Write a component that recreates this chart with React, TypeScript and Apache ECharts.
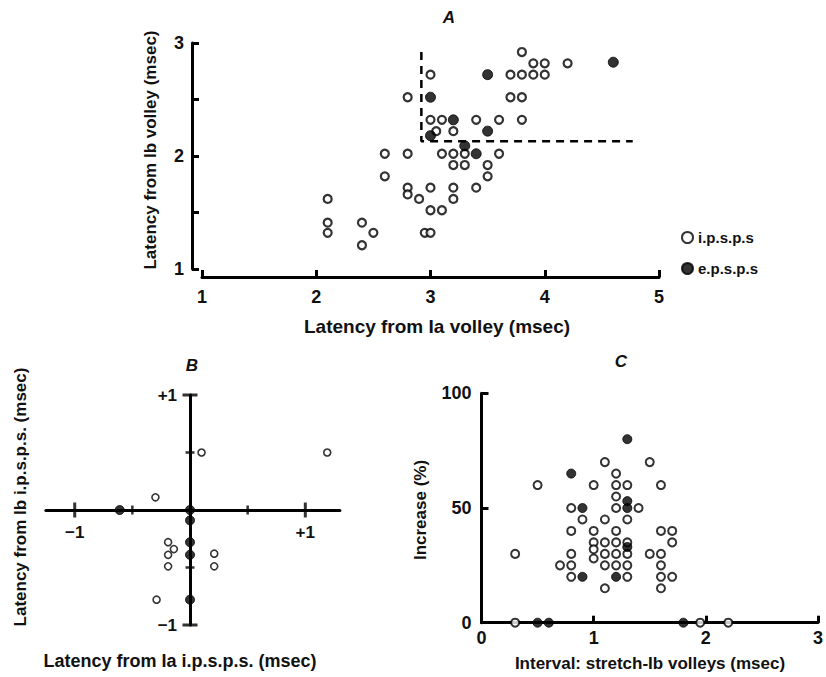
import React, { useEffect, useRef } from "react";
import * as echarts from "echarts";

// ---------- Panel A: latency from Ib volley vs latency from Ia volley ----------
const A_ipsp: number[][] = [
  [4.1, 3.02], [3.8, 2.92], [3.9, 2.82], [4.0, 2.82], [4.2, 2.82],
  [3.0, 2.72], [3.7, 2.72], [3.8, 2.72], [3.9, 2.72], [4.0, 2.72],
  [2.8, 2.52], [3.7, 2.52], [3.8, 2.52],
  [3.0, 2.32], [3.1, 2.32], [3.4, 2.32], [3.6, 2.32], [3.8, 2.32],
  [3.05, 2.22], [3.2, 2.22],
  [2.6, 2.02], [2.8, 2.02], [3.1, 2.02], [3.2, 2.02], [3.3, 2.02], [3.6, 2.02],
  [3.2, 1.92], [3.3, 1.92], [3.5, 1.92],
  [2.6, 1.82], [3.5, 1.82],
  [2.8, 1.72], [3.0, 1.72], [3.2, 1.72], [3.4, 1.72],
  [2.8, 1.66], [2.9, 1.62], [3.2, 1.62], [2.1, 1.62],
  [3.0, 1.52], [3.1, 1.52],
  [2.1, 1.41], [2.4, 1.41],
  [2.1, 1.32], [2.5, 1.32], [2.95, 1.32], [3.0, 1.32],
  [2.4, 1.21],
];
const A_epsp: number[][] = [
  [4.6, 2.83], [3.5, 2.72], [3.0, 2.52], [3.2, 2.32], [3.5, 2.22],
  [3.0, 2.18], [3.3, 2.09], [3.4, 2.02],
];
const A_dashed: number[][] = [[2.92, 2.92], [2.92, 2.13], [4.77, 2.13]];

// ---------- Panel B: Ib i.p.s.p.s. vs Ia i.p.s.p.s. ----------
const B_open: number[][] = [
  [0.1, 0.5], [1.19, 0.5], [-0.3, 0.11], [-0.19, -0.28], [-0.14, -0.34],
  [-0.19, -0.39], [-0.19, -0.49], [0.21, -0.38], [0.21, -0.49], [-0.29, -0.78],
];
const B_filled: number[][] = [
  [-0.61, 0], [0, 0], [0, -0.09], [0, -0.28], [0, -0.39], [0, -0.78],
];
const B_majorX = [-1, 1];
const B_minorX = [-0.5, 0.5];
const B_majorY = [-1, 1];
const B_minorY = [-0.5, 0.5];

// ---------- Panel C: increase (%) vs interval stretch-Ib volleys ----------
const C_open: number[][] = [
  [1.1, 70], [1.5, 70], [1.2, 65],
  [0.5, 60], [1.0, 60], [1.2, 60], [1.3, 60], [1.6, 60],
  [1.2, 55],
  [0.8, 50], [1.2, 50], [1.4, 50],
  [0.9, 45], [1.1, 45], [1.3, 45],
  [0.8, 40], [1.0, 40], [1.2, 40], [1.6, 40], [1.7, 40],
  [1.0, 35], [1.1, 35], [1.2, 35], [1.3, 35], [1.7, 35],
  [1.0, 32],
  [0.3, 30], [0.8, 30], [1.1, 30], [1.2, 30], [1.3, 30], [1.5, 30], [1.6, 30],
  [1.0, 28],
  [0.7, 25], [0.8, 25], [1.1, 25], [1.2, 25], [1.3, 25], [1.6, 25],
  [0.8, 20], [1.3, 20], [1.6, 20], [1.7, 20],
  [1.1, 15], [1.6, 15],
  [0.3, 0], [1.95, 0], [2.2, 0],
];
const C_filled: number[][] = [
  [1.3, 80], [0.8, 65], [0.9, 50], [1.3, 53], [1.3, 50], [1.3, 33],
  [0.9, 20], [1.2, 20],
  [0.5, 0], [0.6, 0], [1.8, 0],
];

const FONT = '"Liberation Sans", Arial, Helvetica, sans-serif';
const INK = "#111";

function tickLabelStyle(size: number) {
  return { color: INK, fontFamily: FONT, fontWeight: "bold" as const, fontSize: size };
}

function titleText(text: string, x: number, y: number, size: number, rotate = false, italic = false) {
  return {
    type: "text",
    x,
    y,
    rotation: rotate ? Math.PI / 2 : 0,
    style: {
      text,
      fill: INK,
      font: `${italic ? "italic " : ""}bold ${size}px ${FONT}`,
      textAlign: "center",
      textVerticalAlign: "middle",
    },
  };
}

const pm1 = (v: number) => (Math.abs(v - 1) < 1e-6 ? "+1" : Math.abs(v + 1) < 1e-6 ? "\u22121" : "");

export default function App() {
  const ref = useRef<HTMLDivElement>(null);

  useEffect(() => {
    if (!ref.current) return;
    const chart = echarts.init(ref.current, undefined, { renderer: "svg" });

    const openStyle = (bw: number) => ({ color: "#fff", borderColor: "#000", borderWidth: bw });
    const filledStyle = { color: "#000", borderColor: "#000", borderWidth: 1 };

    // Panel B grid geometry: zero lines crossing at (190, 510)
    const bLeft = 45.9, bTop = 395, bW = 294, bH = 230;
    const bXmin = -1.25, bXmax = 1.3, bYmin = -1, bYmax = 1;
    const xOffB = -(bH * (0 - bYmin)) / (bYmax - bYmin);
    const yOffB = -(bW * (0 - bXmin)) / (bXmax - bXmin);

    const option: any = {
      animation: false,
      backgroundColor: "#fff",
      grid: [
        { left: 202, top: 43, width: 457, height: 226 },
        { left: bLeft, top: bTop, width: bW, height: bH },
        { left: 481.5, top: 393.3, width: 342.5, height: 229.4 },
      ],
      xAxis: [
        {
          gridIndex: 0, type: "value", min: 1, max: 5, interval: 1, offset: 8,
          axisLine: { onZero: false, lineStyle: { color: "#000", width: 3 } },
          axisTick: { inside: true, length: 7, lineStyle: { color: "#000", width: 3 } },
          axisLabel: { ...tickLabelStyle(18), margin: 11 },
          splitLine: { show: false },
        },
        {
          gridIndex: 1, type: "value", min: bXmin, max: bXmax, interval: 0.25,
          position: "bottom", offset: xOffB,
          axisLine: { onZero: false, lineStyle: { color: "#000", width: 3 } },
          axisTick: { show: false },
          axisLabel: { ...tickLabelStyle(17), margin: 14, formatter: pm1 },
          splitLine: { show: false },
        },
        {
          gridIndex: 2, type: "value", min: 0, max: 3, interval: 1,
          axisLine: { onZero: false, lineStyle: { color: "#000", width: 3 } },
          axisTick: { inside: true, length: 7, lineStyle: { color: "#000", width: 3 } },
          axisLabel: { ...tickLabelStyle(18), margin: 6 },
          splitLine: { show: false },
        },
      ],
      yAxis: [
        {
          gridIndex: 0, type: "value", min: 1, max: 3, interval: 0.5, offset: 10,
          axisLine: { show: true, onZero: false, lineStyle: { color: "#000", width: 3 } },
          axisTick: { show: true, inside: true, length: 7, lineStyle: { color: "#000", width: 3 } },
          axisLabel: {
            ...tickLabelStyle(18), margin: 8,
            formatter: (v: number) => (Math.abs(v - Math.round(v)) < 1e-6 ? String(Math.round(v)) : ""),
          },
          splitLine: { show: false },
        },
        {
          gridIndex: 1, type: "value", min: bYmin, max: bYmax, interval: 0.5,
          position: "left", offset: yOffB,
          axisLine: { show: true, onZero: false, lineStyle: { color: "#000", width: 3 } },
          axisTick: { show: false },
          axisLabel: { ...tickLabelStyle(17), margin: 13, formatter: pm1 },
          splitLine: { show: false },
        },
        {
          gridIndex: 2, type: "value", min: 0, max: 100, interval: 50,
          axisLine: { show: true, onZero: false, lineStyle: { color: "#000", width: 3 } },
          axisTick: { show: true, inside: true, length: 7, lineStyle: { color: "#000", width: 3 } },
          axisLabel: { ...tickLabelStyle(18), margin: 10 },
          splitLine: { show: false },
        },
      ],
      legend: {
        orient: "vertical",
        left: 676,
        top: 225,
        itemGap: 16,
        itemWidth: 11,
        itemHeight: 11,
        data: ["i.p.s.p.s", "e.p.s.p.s"],
        textStyle: { color: INK, fontFamily: FONT, fontWeight: "bold", fontSize: 15 },
      },
      graphic: [
        titleText("A", 449, 17, 17, false, true),
        titleText("B", 192, 365, 17, false, true),
        titleText("C", 621, 361, 17, false, true),
        titleText("Latency from Ia volley (msec)", 437, 326, 19),
        titleText("Latency from Ib volley (msec)", 150, 150, 17, true),
        titleText("Latency from Ia i.p.s.p.s. (msec)", 180, 661, 18),
        titleText("Latency from Ib i.p.s.p.s. (msec)", 20, 497, 17, true),
        titleText("Interval: stretch-Ib volleys (msec)", 650, 663, 17),
        titleText("Increase (%)", 420, 510, 17, true),
      ],
      series: [
        {
          name: "A-guides", type: "line", xAxisIndex: 0, yAxisIndex: 0, data: A_dashed,
          symbol: "none", silent: true, z: 1,
          lineStyle: { color: "#000", width: 2.5, type: [8, 6] },
        },
        {
          name: "i.p.s.p.s", type: "scatter", xAxisIndex: 0, yAxisIndex: 0, data: A_ipsp,
          symbol: "circle", symbolSize: 8, itemStyle: openStyle(2.2), z: 3,
        },
        {
          name: "e.p.s.p.s", type: "scatter", xAxisIndex: 0, yAxisIndex: 0, data: A_epsp,
          symbol: "circle", symbolSize: 10, itemStyle: filledStyle, z: 4,
        },
        {
          name: "B-xticks-major", type: "scatter", xAxisIndex: 1, yAxisIndex: 1,
          data: B_majorX.map((v) => [v, 0]), symbol: "rect", symbolSize: [3, 15],
          itemStyle: { color: "#000" }, silent: true, z: 2,
        },
        {
          name: "B-xticks-minor", type: "scatter", xAxisIndex: 1, yAxisIndex: 1,
          data: B_minorX.map((v) => [v, 0]), symbol: "rect", symbolSize: [2.5, 9],
          itemStyle: { color: "#000" }, silent: true, z: 2,
        },
        {
          name: "B-yticks-major", type: "scatter", xAxisIndex: 1, yAxisIndex: 1,
          data: B_majorY.map((v) => [0, v]), symbol: "rect", symbolSize: [15, 3],
          itemStyle: { color: "#000" }, silent: true, z: 2,
        },
        {
          name: "B-yticks-minor", type: "scatter", xAxisIndex: 1, yAxisIndex: 1,
          data: B_minorY.map((v) => [0, v]), symbol: "rect", symbolSize: [9, 2.5],
          itemStyle: { color: "#000" }, silent: true, z: 2,
        },
        {
          name: "B-open", type: "scatter", xAxisIndex: 1, yAxisIndex: 1, data: B_open,
          symbol: "circle", symbolSize: 7, itemStyle: openStyle(1.6), z: 3,
        },
        {
          name: "B-filled", type: "scatter", xAxisIndex: 1, yAxisIndex: 1, data: B_filled,
          symbol: "circle", symbolSize: 9, itemStyle: filledStyle, z: 4,
        },
        {
          name: "C-open", type: "scatter", xAxisIndex: 2, yAxisIndex: 2, data: C_open,
          symbol: "circle", symbolSize: 8, itemStyle: openStyle(2), z: 3,
        },
        {
          name: "C-filled", type: "scatter", xAxisIndex: 2, yAxisIndex: 2, data: C_filled,
          symbol: "circle", symbolSize: 9, itemStyle: filledStyle, z: 4,
        },
      ],
    };

    chart.setOption(option);
    return () => chart.dispose();
  }, []);

  return (
    <div
      ref={ref}
      style={{ position: "absolute", left: 0, top: 0, width: 826, height: 677, background: "#fff" }}
    />
  );
}
